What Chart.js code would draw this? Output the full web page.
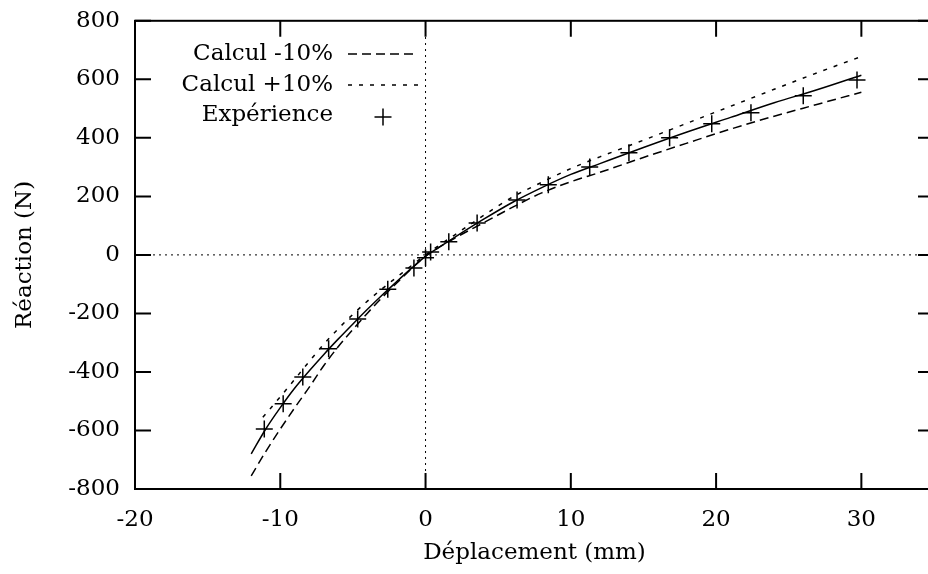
<!DOCTYPE html>
<html>
<head>
<meta charset="utf-8">
<script src="https://cdn.jsdelivr.net/npm/chart.js@4.4.0/dist/chart.umd.min.js"></script>
<style>
  html, body { margin: 0; padding: 0; overflow: hidden; background: #fff; }
</style>
</head>
<body>
<canvas id="chart" width="950" height="574"></canvas>
<script>
// axis ranges and ticks
const xMin = -20, xMax = 35;
const yMin = -800, yMax = 800;
const xTicks = [-20, -10, 0, 10, 20, 30];
const yTicks = [-800, -600, -400, -200, 0, 200, 400, 600, 800];

// computed curves
const calcX      = [-12, -11, -10, -9, -8, -7, -6, -5, -4, -3, -2, -1, 0, 1, 2, 4, 6, 8, 10, 12, 15, 18, 21, 24, 27, 30];
const calcY      = [-680, -595, -522, -455, -396, -340, -287, -236, -186, -138, -92, -47, -5, 28, 60, 122, 180, 230, 275, 312, 367, 420, 470, 520, 565, 614];
const calcMinusY = [-755, -672, -595, -522, -452, -378, -313, -255, -199, -146, -97, -49, -4, 28, 57, 110, 163, 212, 250, 282, 333, 382, 430, 474, 515, 556];
const calcPlusX  = [-11.2, -10, -9, -8, -7, -6, -5, -4, -3, -2, -1, 0, 1, 2, 4, 6, 8, 10, 12, 15, 18, 21, 24, 27, 30];
const calcPlusY  = [-555, -485, -425, -364, -305, -252, -203, -158, -116, -77, -38, 0, 35, 68, 135, 198, 248, 295, 335, 392, 450, 508, 566, 623, 678];

// experimental points
const expX = [-11.1, -9.8, -8.45, -6.67, -4.67, -2.6, -0.8, 0, 0.35, 1.6, 3.55, 6.3, 8.45, 11.3, 14, 16.8, 19.7, 22.4, 26, 29.7];
const expY = [-595, -509, -417, -321, -219, -117, -45, -10, 10, 45, 109, 188, 240, 300, 349, 400, 448, 486, 544, 598];

const FONT = '"DejaVu Serif", serif';
Chart.defaults.font.family = FONT;
Chart.defaults.font.size = 23;
Chart.defaults.color = '#000';

const toPts = (xs, ys) => xs.map((x, i) => ({ x: x, y: ys[i] }));

const lineStyle = {
    borderColor: '#000',
    borderWidth: 1.5,
    pointRadius: 0,
    fill: false,
    cubicInterpolationMode: 'monotone'
};

// frame with inward ticks on all four sides
const framePlugin = {
    id: 'frame',
    afterDatasetsDraw(chart) {
        const { ctx, chartArea: a, scales: { x, y } } = chart;
        const len = 16;
        ctx.save();
        ctx.strokeStyle = '#000';
        ctx.lineWidth = 2;
        ctx.strokeRect(a.left, a.top, a.right - a.left, a.bottom - a.top);
        ctx.beginPath();
        xTicks.forEach(v => {
            const px = x.getPixelForValue(v);
            ctx.moveTo(px, a.bottom); ctx.lineTo(px, a.bottom - len);
            ctx.moveTo(px, a.top); ctx.lineTo(px, a.top + len);
        });
        yTicks.forEach(v => {
            const py = y.getPixelForValue(v);
            ctx.moveTo(a.left, py); ctx.lineTo(a.left + len, py);
            ctx.moveTo(a.right, py); ctx.lineTo(a.right - len, py);
        });
        ctx.stroke();
        ctx.restore();
    }
};

// gnuplot-like key: text right-aligned, sample on the right
const keyPlugin = {
    id: 'key',
    afterDraw(chart) {
        const ctx = chart.ctx;
        const rows = [0, 1, 2];
        const textRight = 333, sx0 = 348, sx1 = 418;
        const rowY = [54, 85, 115];
        ctx.save();
        ctx.font = '23px ' + FONT;
        ctx.fillStyle = '#000';
        ctx.strokeStyle = '#000';
        ctx.textAlign = 'right';
        ctx.textBaseline = 'middle';
        rows.forEach(i => {
            const ds = chart.data.datasets[i];
            ctx.fillText(ds.label, textRight, rowY[i]);
            ctx.lineWidth = 1.5;
            ctx.beginPath();
            if (ds.showLine === false) {
                const cx = (sx0 + sx1) / 2, r = ds.pointRadius;
                ctx.setLineDash([]);
                ctx.moveTo(cx - r, rowY[i] + 2); ctx.lineTo(cx + r, rowY[i] + 2);
                ctx.moveTo(cx, rowY[i] + 2 - r); ctx.lineTo(cx, rowY[i] + 2 + r);
            } else {
                ctx.setLineDash(ds.borderDash || []);
                ctx.moveTo(sx0, rowY[i]); ctx.lineTo(sx1, rowY[i]);
            }
            ctx.stroke();
        });
        ctx.restore();
    }
};

const ctx = document.getElementById('chart').getContext('2d');
window.reactionChart = new Chart(ctx, {
    type: 'line',
    data: {
        datasets: [
            Object.assign({ label: 'Calcul -10%', data: toPts(calcX, calcMinusY), borderDash: [9, 5] }, lineStyle),
            Object.assign({ label: 'Calcul +10%', data: toPts(calcPlusX, calcPlusY), borderDash: [4, 7] }, lineStyle),
            {
                label: 'Expérience',
                data: toPts(expX, expY),
                showLine: false,
                pointStyle: 'cross',
                pointRadius: 8.5,
                pointBorderWidth: 1.5,
                pointBorderColor: '#000',
                pointBackgroundColor: '#000'
            },
            Object.assign({ label: 'Calcul', data: toPts(calcX, calcY) }, lineStyle),
            // dotted zero axes
            { label: 'x0', data: [{ x: 0, y: yMin }, { x: 0, y: yMax }], borderColor: '#000', borderWidth: 1, borderDash: [2, 4], pointRadius: 0 },
            { label: 'y0', data: [{ x: xMin, y: 0 }, { x: xMax, y: 0 }], borderColor: '#000', borderWidth: 1, borderDash: [2, 4], pointRadius: 0 }
        ]
    },
    options: {
        responsive: false,
        animation: false,
        layout: { padding: { top: 12, right: 16, left: 0, bottom: 0 } },
        plugins: {
            legend: { display: false },
            tooltip: { enabled: false }
        },
        scales: {
            x: {
                type: 'linear',
                min: xMin,
                max: xMax,
                afterBuildTicks: s => { s.ticks = xTicks.map(v => ({ value: v })); },
                afterFit: s => { s.height = 85; },
                grid: { display: false },
                border: { display: false },
                ticks: { padding: 9, maxRotation: 0, callback: v => String(v) },
                title: { display: true, text: 'Déplacement (mm)', padding: { top: 0, bottom: 7 } }
            },
            y: {
                type: 'linear',
                min: yMin,
                max: yMax,
                afterBuildTicks: s => { s.ticks = yTicks.map(v => ({ value: v })); },
                afterFit: s => { s.width = 135; },
                grid: { display: false },
                border: { display: false },
                ticks: { padding: 7, callback: v => String(v) },
                title: { display: true, text: 'Réaction (N)', padding: { top: 11, bottom: 0 } }
            }
        }
    },
    plugins: [framePlugin, keyPlugin]
});
</script>
</body>
</html>
